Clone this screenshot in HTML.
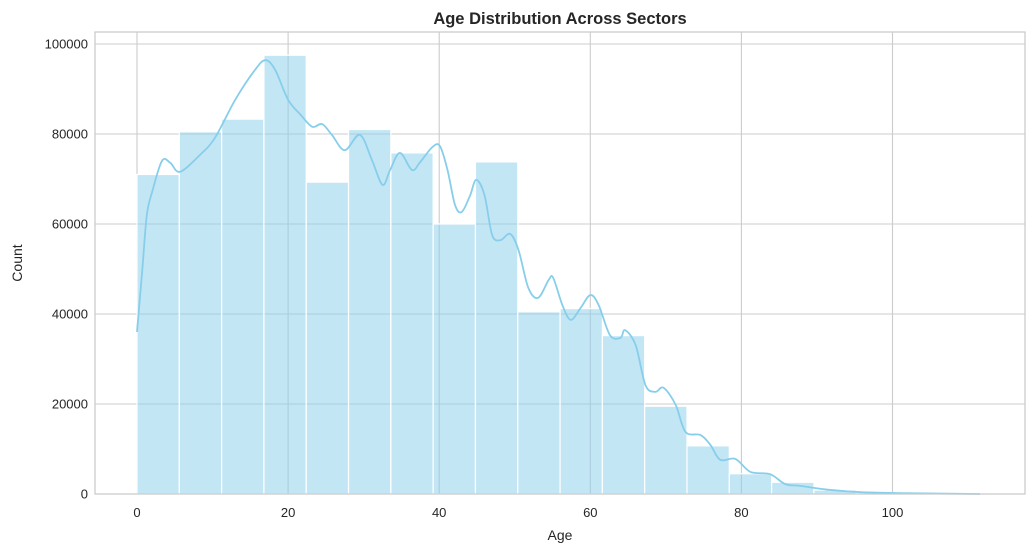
<!DOCTYPE html>
<html><head><meta charset="utf-8"><style>
body{margin:0;background:#fff;}
svg text{font-family:"Liberation Sans",Arial,sans-serif;fill:#262626;}
</style></head><body>
<svg id="chart" width="1034" height="552">
<rect width="1034" height="552" fill="#fff"/>
<g id="grid"></g><g id="bars"></g><g id="kde"></g><g id="axes"></g>
<text x="560" y="24" text-anchor="middle" font-size="16.5" font-weight="bold">Age Distribution Across Sectors</text>
<text x="560" y="540" text-anchor="middle" font-size="14">Age</text>
<text x="22" y="263" text-anchor="middle" font-size="14" transform="rotate(-90 22 263)">Count</text>
</svg>
<script>
const binStart = 0;
const binWidth = 5.6;
const binCounts = [71000,80500,83300,97500,69300,81000,75800,60000,73800,40500,41200,35200,19500,10700,4500,2600,900,300,150,50];
const kdeAges = [0,0.7,1.3,2.0,3.3,4.4,5.7,8.3,10.3,13.0,15.6,17.0,18.3,20.0,21.7,23.2,24.5,25.8,27.5,29.5,31.1,32.5,33.5,34.8,36.4,37.5,39.1,40.1,41.1,42.1,43.0,44.1,44.9,46.0,47.0,48.1,49.4,50.5,51.8,53.1,54.5,55.1,56.3,57.4,58.7,60.0,61.1,62.6,64.0,64.6,66.0,67.3,68.6,69.7,71.3,72.6,74.6,75.9,77.2,79.2,81.2,83.8,85.8,87.8,91.8,95.8,100.9,111.6];
const kdeCounts = [36000,49800,62000,67100,74000,73600,71600,75300,79100,87600,94200,96400,94200,87600,84200,81600,82200,79800,76400,79800,74200,68700,72000,75800,72000,73800,77100,77300,72000,64200,62700,66400,69800,66400,57600,56400,57800,54200,45800,43600,47600,48000,42000,38700,41300,44200,42000,35300,34700,36400,33100,24200,22700,23600,19800,13800,13100,10900,7600,7800,4900,4400,2200,1800,900,400,200,0];
const xTicks = [0,20,40,60,80,100];
const yTicks = [0,20000,40000,60000,80000,100000];

const L=95,R=1025,T=32,B=494;
const X=v=>137+v*7.555;
const Y=v=>494-v*0.0045;
const ns="http://www.w3.org/2000/svg";
function mk(tag,attrs,parent){const e=document.createElementNS(ns,tag);for(const k in attrs)e.setAttribute(k,attrs[k]);parent.appendChild(e);return e;}
const grid=document.getElementById('grid'),bars=document.getElementById('bars'),kde=document.getElementById('kde'),axes=document.getElementById('axes');
xTicks.forEach(t=>{
  const l=mk('line',{x1:X(t),x2:X(t),y1:T,y2:B,stroke:'#cccccc','stroke-width':1.1},grid);
  
  
  const tx=mk('text',{x:X(t),y:517,'text-anchor':'middle','font-size':13},axes);
  tx.textContent=t;
  
  
});
yTicks.forEach(t=>{
  const l=mk('line',{x1:L,x2:R,y1:Y(t),y2:Y(t),stroke:'#cccccc','stroke-width':1.1},grid);
  
  
  const tx=mk('text',{x:88,y:Y(t)+4.5,'text-anchor':'end','font-size':13},axes);
  tx.textContent=t;
  
  
});
binCounts.forEach((c,i)=>{
  const x0=X(binStart+i*binWidth),x1=X(binStart+(i+1)*binWidth);
  const r=mk('rect',{x:x0,y:Y(c),width:x1-x0,height:Y(0)-Y(c),fill:'#87ceeb','fill-opacity':0.5,stroke:'#ffffff','stroke-width':1.2},bars);
  
  
});
let pts=kdeAges.map((a,i)=>[X(a),Y(kdeCounts[i])]);
let d='M'+pts[0][0]+','+pts[0][1];
for(let i=0;i<pts.length-1;i++){
  const p0=pts[Math.max(0,i-1)],p1=pts[i],p2=pts[i+1],p3=pts[Math.min(pts.length-1,i+2)];
  const c1=[p1[0]+(p2[0]-p0[0])/6,p1[1]+(p2[1]-p0[1])/6];
  const c2=[p2[0]-(p3[0]-p1[0])/6,p2[1]-(p3[1]-p1[1])/6];
  d+=` C${c1[0]},${c1[1]} ${c2[0]},${c2[1]} ${p2[0]},${p2[1]}`;
}
const path=mk('path',{d:d,fill:'none',stroke:'#87ceeb','stroke-width':1.8},kde);


const frame=mk('rect',{x:L,y:T,width:R-L,height:B-T,fill:'none',stroke:'#cccccc','stroke-width':1.3},axes);


</script>
</body></html>
